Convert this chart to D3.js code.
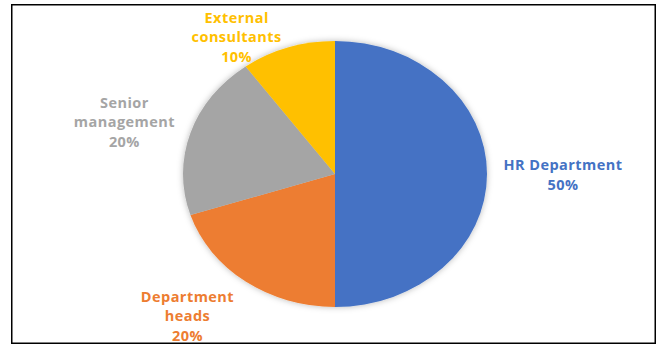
<!DOCTYPE html>
<html>
<head>
<meta charset="utf-8">
<script src="https://cdn.jsdelivr.net/npm/d3@7/dist/d3.min.js"></script>
<style>
  html, body { margin: 0; padding: 0; background: #fff; }
  svg { display: block; }
  text { font-family: "Open Sans", "Noto Sans", sans-serif; font-weight: 700; }
</style>
</head>
<body>
<svg id="chart" width="661" height="345"></svg>
<script>
// Stakeholder share of the review
const categories = ["HR Department", "Department heads", "Senior management", "External consultants"];
const values = [50, 20, 20, 10];
const labelLines = [["HR Department"], ["Department", "heads"], ["Senior", "management"], ["External", "consultants"]];
const colors = ["#4472C4", "#ED7D31", "#A5A5A5", "#FFC000"];

const W = 661, H = 345;
const cx = 335, cy = 174;
const rx = 152, ry = 133;

// label anchor: distance along the slice's mid-angle (in pie radii) plus a nudge
const labelLayout = [
  { k: 1.50, dx: 0,   dy: 1 },
  { k: 1.45, dx: -18, dy: -14 },
  { k: 1.45, dx: -1,  dy: 8 },
  { k: 1.20, dx: -42, dy: 15 }
];

const svg = d3.select("#chart");

const defs = svg.append("defs");
const f = defs.append("filter").attr("id", "pieShadow")
  .attr("x", "-20%").attr("y", "-20%").attr("width", "140%").attr("height", "140%");
f.append("feDropShadow")
  .attr("dx", 0).attr("dy", 0).attr("stdDeviation", 3)
  .attr("flood-color", "#000").attr("flood-opacity", 0.28);

// frame
svg.append("rect")
  .attr("x", 11.75).attr("y", 4.75)
  .attr("width", 655.25 - 11.75).attr("height", 343.25 - 4.75)
  .attr("fill", "none").attr("stroke", "#000").attr("stroke-width", 1.5);

const total = d3.sum(values);
const pie = d3.pie().sort(null).value(d => d)(values);

const arc = d3.arc().innerRadius(0).outerRadius(ry);

// pie drawn as a circle of radius ry then stretched horizontally to rx
const g = svg.append("g")
  .attr("filter", "url(#pieShadow)")
  .attr("transform", `translate(${cx},${cy}) scale(${rx / ry},1)`);

g.selectAll("path").data(pie).join("path")
  .attr("d", arc)
  .attr("fill", (d, i) => colors[i]);

// labels: category name lines followed by the percentage
const lineH = 19.5;
pie.forEach((d, i) => {
  const mid = (d.startAngle + d.endAngle) / 2;
  const L = labelLayout[i];
  const x = cx + Math.sin(mid) * rx * L.k + L.dx;
  const y = cy - Math.cos(mid) * ry * L.k + L.dy;
  const lines = labelLines[i].concat([d3.format(".0%")(d.data / total)]);
  const t = svg.append("text")
    .attr("text-anchor", "middle")
    .attr("fill", colors[i])
    .attr("font-size", 14.5)
    .attr("letter-spacing", 0.45);
  const y0 = y - (lines.length - 1) * lineH / 2;
  lines.forEach((s, j) => {
    t.append("tspan").attr("x", x).attr("y", y0 + j * lineH).attr("dy", "0.35em").text(s);
  });
});
</script>
</body>
</html>
